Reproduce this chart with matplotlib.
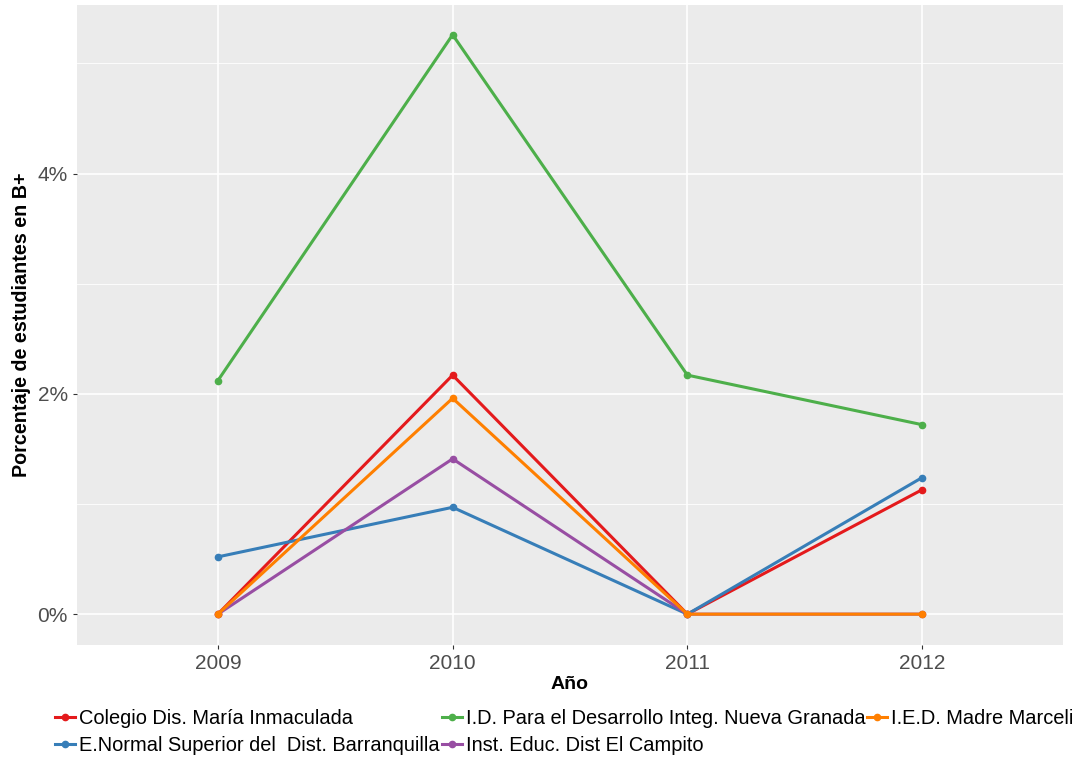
import matplotlib.pyplot as plt
import matplotlib.ticker as mticker

plt.rcParams['font.family'] = ['Liberation Sans', 'DejaVu Sans']

years = [2009, 2010, 2011, 2012]
colegio = [0.0, 2.17, 0.0, 1.13]
normal = [0.52, 0.97, 0.0, 1.24]
idnueva = [2.12, 5.26, 2.17, 1.72]
campito = [0.0, 1.41, 0.0, 0.0]
marcel = [0.0, 1.96, 0.0, 0.0]

# order chosen so the column-major legend reads like the picture
series = [
    ('Colegio Dis. María Inmaculada', colegio, '#E41A1C'),
    ('E.Normal Superior del  Dist. Barranquilla', normal, '#377EB8'),
    ('I.D. Para el Desarrollo Integ. Nueva Granada', idnueva, '#4DAF4A'),
    ('Inst. Educ. Dist El Campito', campito, '#984EA3'),
    ('I.E.D. Madre Marcelina', marcel, '#FF7F00'),
]

fig = plt.figure(figsize=(10.73, 7.58), dpi=100)
ax = fig.add_axes([77/1073, 1-645/758, (1063-77)/1073, (645-5)/758])
ax.set_facecolor('#EBEBEB')

handles = []
for name, vals, col in series:
    h, = ax.plot(years, vals, color=col, lw=2.2, marker='o', ms=4.5, label=name)
    handles.append(h)

ax.set_xlim(2008.4, 2012.6)
ax.set_ylim(-0.28, 5.53)
ax.set_xticks(years)
ax.set_yticks([0, 2, 4])
ax.set_yticks([1, 3, 5], minor=True)
ax.yaxis.set_major_formatter(mticker.FuncFormatter(lambda v, p: '%d%%' % v))
ax.grid(True, which='major', color='white', lw=1.2)
ax.grid(True, which='minor', axis='y', color='white', lw=0.6)
ax.set_axisbelow(True)
for s in ax.spines.values():
    s.set_visible(False)
ax.tick_params(axis='both', which='major', colors='#333333', labelcolor='#4D4D4D',
               labelsize=15, length=3, width=0.8)
ax.tick_params(axis='y', which='minor', length=0)
ax.set_xlabel('Año', fontsize=14, fontweight='bold', labelpad=2)
ax.set_ylabel('Porcentaje de estudiantes en B+', fontsize=14.2, fontweight='bold', labelpad=5)

# the last label runs off the right edge, as in the original
leg = fig.legend(handles, [s[0] for s in series],
                 loc='upper left', bbox_to_anchor=(47/1073, 1-701/758), ncol=3,
                 frameon=False, fontsize=14.4, handlelength=1.0, handletextpad=0.2,
                 columnspacing=0.1, labelspacing=0.4, borderaxespad=0)

fig.savefig('out.png', dpi=100)
